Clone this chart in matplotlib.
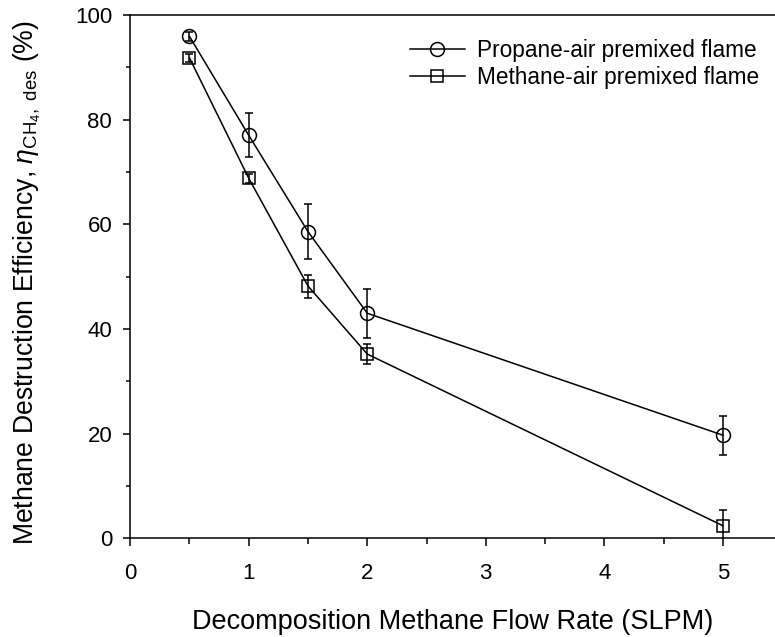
import numpy as np
import matplotlib
matplotlib.use('Agg')
import matplotlib.pyplot as plt

plt.rcParams['font.family'] = ['Liberation Sans', 'DejaVu Sans']
plt.rcParams['mathtext.fontset'] = 'custom'
plt.rcParams['mathtext.rm'] = 'Liberation Sans'
plt.rcParams['mathtext.it'] = 'Liberation Sans:italic'

flow = [0.5, 1.0, 1.5, 2.0, 5.0]
propane_eff = [95.9, 77.0, 58.6, 43.0, 19.7]
propane_err = [0.8, 4.2, 5.3, 4.7, 3.7]
methane_eff = [91.8, 68.8, 48.2, 35.2, 2.4]
methane_err = [0.8, 0.9, 2.2, 1.9, 3.0]

fig = plt.figure(figsize=(7.75, 6.37), dpi=100)
ax = fig.add_axes([0.168, 0.155, 0.832, 0.8215])

ax.errorbar(flow, propane_eff, yerr=propane_err, color='black', lw=1.1,
            marker='o', ms=10, mfc='none', mec='black', mew=1.1,
            capsize=3, elinewidth=1.1, capthick=1.1,
            label='Propane-air premixed flame')
ax.errorbar(flow, methane_eff, yerr=methane_err, color='black', lw=1.1,
            marker='s', ms=8.5, mfc='none', mec='black', mew=1.1,
            capsize=3, elinewidth=1.1, capthick=1.1,
            label='Methane-air premixed flame')

ax.set_xlim(0, 5.44)
ax.set_ylim(0, 100)
ax.set_xticks([0, 1, 2, 3, 4, 5])
ax.set_xticks(np.arange(0.5, 5.5, 1.0), minor=True)
ax.set_yticks([0, 20, 40, 60, 80, 100])
ax.set_yticks(np.arange(10, 100, 20), minor=True)
ax.tick_params(which='major', direction='out', length=5, width=1.1, labelsize=16)
ax.tick_params(which='minor', direction='out', length=3, width=1.1)
ax.tick_params(axis='x', which='major', length=6, pad=12)
ax.tick_params(axis='x', which='minor', length=4)
ax.tick_params(axis='y', which='major', pad=8)
ax.spines['right'].set_visible(False)
for s in ['left', 'top', 'bottom']:
    ax.spines[s].set_linewidth(1.1)

ax.set_xlabel('Decomposition Methane Flow Rate (SLPM)', fontsize=19.5, labelpad=18)
ax.set_ylabel(r'Methane Destruction Efficiency, $\mathit{\eta}_{\mathrm{CH_4,\ des}}$ (%)',
              fontsize=19.2)
ax.yaxis.set_label_coords(-0.135, 0.488)

handles, labels = ax.get_legend_handles_labels()
handles = [h[0] for h in handles]
ax.legend(handles, labels, loc='upper right', bbox_to_anchor=(1.0, 0.985),
          frameon=False, fontsize=16.3, handlelength=2.4, handletextpad=0.55,
          labelspacing=0.2, borderaxespad=0.3)

fig.savefig('out.png', dpi=100)
